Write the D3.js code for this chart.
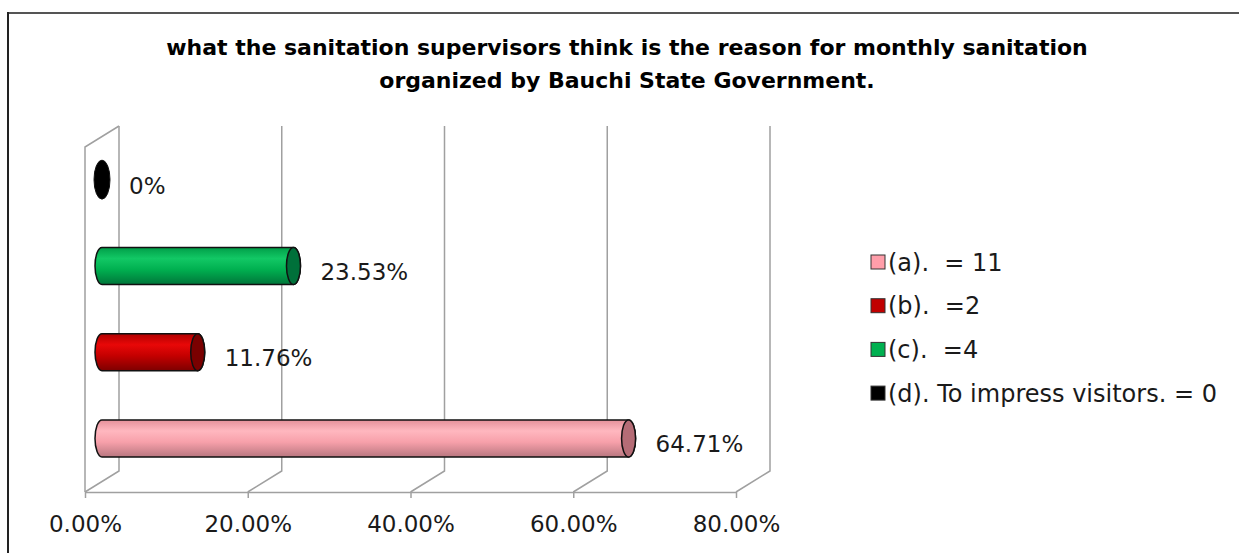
<!DOCTYPE html>
<html>
<head>
<meta charset="utf-8">
<script src="https://cdn.jsdelivr.net/npm/d3@7"></script>
<style>
  html, body { margin: 0; padding: 0; background: #fff; }
  svg { display: block; }
  text { font-family: "DejaVu Sans", sans-serif; fill: #1a1a1a; }
</style>
</head>
<body>
<svg id="chart" width="1239" height="553"></svg>
<script>
// Survey responses: share of sanitation supervisors per reason
const categories = ["(a).", "(b).", "(c).", "(d)."];
const values = [0.6471, 0.1176, 0.2353, 0];
const legendLabels = ["(a).  = 11", "(b).  =2", "(c).  =4", "(d). To impress visitors. = 0"];
const tickValues = [0, 0.2, 0.4, 0.6, 0.8];
const titleLines = [
  "what the sanitation supervisors think is the reason for monthly sanitation",
  "organized by Bauchi State Government."
];

// Fill palettes: body gradient stops and darker end cap
const palette = [
  { id: "pink",  stops: ["#E5909A", "#FFB7BF", "#F7A0AA", "#B97780"], cap: "#B56C76", swatch: "#FF9EAA" },
  { id: "red",   stops: ["#B00000", "#E80808", "#C40000", "#7E0000"], cap: "#7A0000", swatch: "#C00000" },
  { id: "green", stops: ["#009E48", "#12C865", "#00B050", "#00763A"], cap: "#00703A", swatch: "#00B050" },
  { id: "black", stops: ["#000", "#222", "#000", "#000"], cap: "#000000", swatch: "#000000" }
];

const svg = d3.select("#chart");

// 3D frame geometry
const front = { left: 85, right: 736, top: 147, bottom: 492 };
const depth = { dx: 34, dy: -21 };

const x = d3.scaleLinear().domain([0, 0.8]).range([front.left, front.right]);
const y = d3.scaleBand().domain(categories).range([front.bottom, front.top]);

// Outer frame (top and left edges)
svg.append("line").attr("x1", 8).attr("y1", 13).attr("x2", 1239).attr("y2", 13)
  .attr("stroke", "#555").attr("stroke-width", 2);
svg.append("line").attr("x1", 8).attr("y1", 12).attr("x2", 8).attr("y2", 553)
  .attr("stroke", "#222").attr("stroke-width", 2);

// Title
svg.append("g").selectAll("text").data(titleLines).join("text")
  .attr("x", 627).attr("y", (d, i) => 55 + i * 33)
  .attr("text-anchor", "middle")
  .style("font-size", "22px").style("font-weight", "bold").style("fill", "#000")
  .text(d => d);

const defs = svg.append("defs");
palette.forEach(p => {
  const g = defs.append("linearGradient").attr("id", "grad-" + p.id)
    .attr("x1", 0).attr("y1", 0).attr("x2", 0).attr("y2", 1);
  [0, 0.3, 0.6, 1].forEach((o, i) => g.append("stop").attr("offset", o).attr("stop-color", p.stops[i]));
});

// Walls and gridlines
const grid = svg.append("g").attr("stroke", "#A0A0A0").attr("stroke-width", 1.5).attr("fill", "none");
const backTop = front.top + depth.dy;
const backBottom = front.bottom + depth.dy;
// left wall
grid.append("path").attr("d",
  `M${front.left},${front.bottom}V${front.top}L${front.left + depth.dx},${backTop}`);
tickValues.forEach(t => {
  const xf = x(t);
  grid.append("path").attr("d",
    `M${xf},${front.bottom}L${xf + depth.dx},${backBottom}V${backTop}`);
});

// Bottom axis
const axis = d3.axisBottom(x).tickValues(tickValues).tickFormat(d3.format(".2%"))
  .tickSizeInner(6).tickSizeOuter(0);
const axisG = svg.append("g").attr("transform", `translate(0,${front.bottom})`).call(axis);
axisG.select(".domain").attr("stroke", "#A0A0A0").attr("stroke-width", 1.5);
axisG.selectAll(".tick line").attr("stroke", "#A0A0A0").attr("stroke-width", 1.5);
axisG.selectAll(".tick text").attr("y", 24).attr("dy", "0.71em")
  .style("font-size", "23px").style("font-family", "DejaVu Sans, sans-serif").attr("fill", "#1a1a1a");

// Cylinders
const barH = 37, rx = 7;
const bars = svg.append("g");
categories.forEach((c, i) => {
  const p = palette[i];
  const cy = y(c) + y.bandwidth() / 2 + depth.dy / 2;
  const x0 = x(0) + depth.dx / 2;
  const x1 = x(values[i]) + depth.dx / 2;
  const ry = barH / 2;
  const g = bars.append("g");
  if (values[i] > 0) {
    g.append("path")
      .attr("d", `M${x0},${cy - ry}H${x1}A${rx},${ry} 0 0 1 ${x1},${cy + ry}H${x0}A${rx},${ry} 0 0 1 ${x0},${cy - ry}Z`)
      .attr("fill", `url(#grad-${p.id})`).attr("stroke", "#111").attr("stroke-width", 1.5);
    g.append("ellipse").attr("cx", x1).attr("cy", cy).attr("rx", rx).attr("ry", ry)
      .attr("fill", p.cap).attr("stroke", "#111").attr("stroke-width", 1.5);
  } else {
    g.append("ellipse").attr("cx", x1).attr("cy", cy).attr("rx", rx + 1).attr("ry", ry + 1)
      .attr("fill", p.cap).attr("stroke", "#111").attr("stroke-width", 1);
  }
  // value label
  svg.append("text")
    .attr("x", x1 + rx + 20).attr("y", cy + 6).attr("dy", "0.35em")
    .style("font-size", "23px")
    .text(values[i] === 0 ? "0%" : d3.format(".2%")(values[i]));
});

// Legend
const legend = svg.append("g").attr("transform", "translate(871,262)");
legendLabels.forEach((l, i) => {
  const row = legend.append("g").attr("transform", `translate(0,${i * 43.7})`);
  row.append("rect").attr("x", 0).attr("y", -7).attr("width", 14).attr("height", 14)
    .attr("fill", palette[i].swatch).attr("stroke", "#333").attr("stroke-width", 1);
  row.append("text").attr("x", 17).attr("y", 0).attr("dy", "0.36em")
    .style("font-size", "24px").style("white-space", "pre").text(l);
});
</script>
</body>
</html>
